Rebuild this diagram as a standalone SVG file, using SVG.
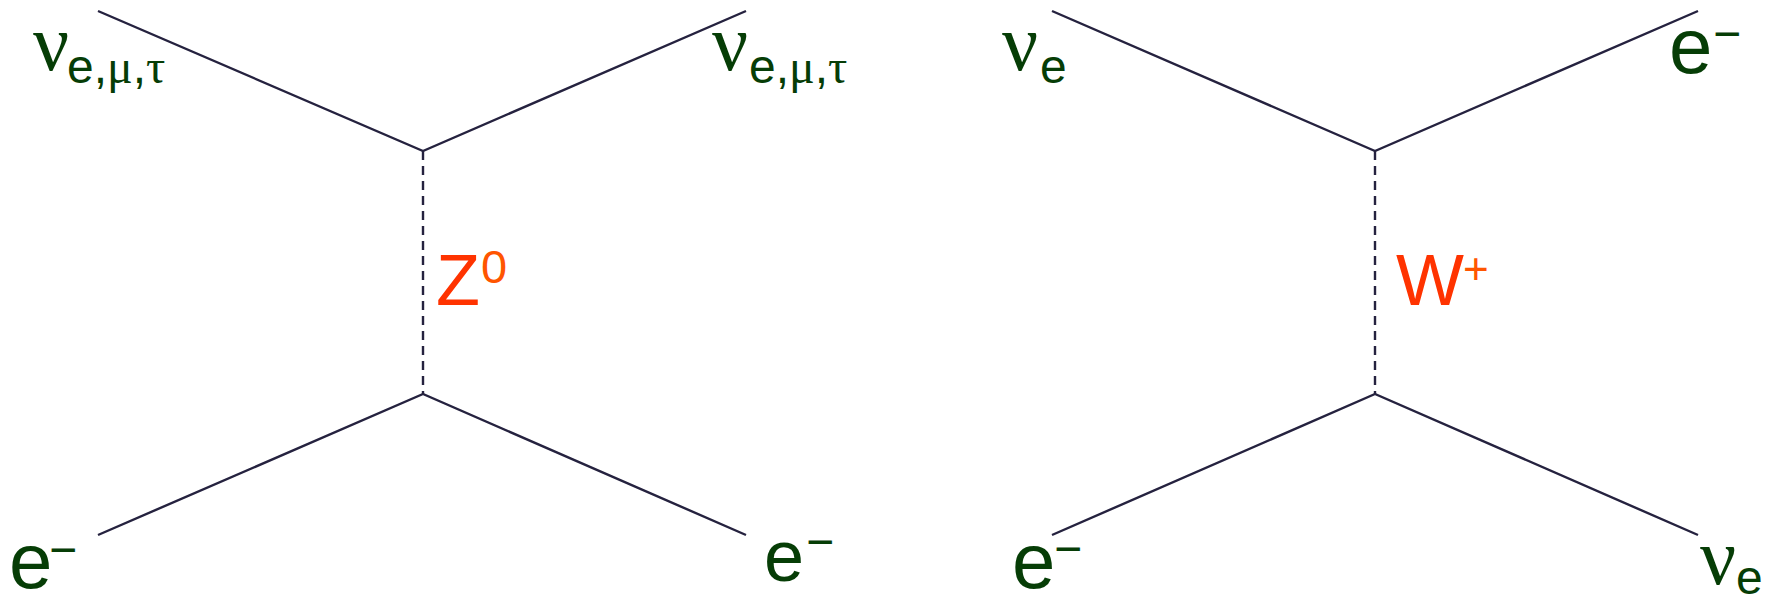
<svg xmlns="http://www.w3.org/2000/svg" width="1772" height="604" viewBox="0 0 1772 604">
<style>
.ln{stroke:#25223f;stroke-width:2.4;fill:none}
.ds{stroke:#25223f;stroke-width:2.4;fill:none;stroke-dasharray:9 6}
.g{fill:#063d06}
.sans{font-family:"Liberation Sans",Arial,sans-serif}
.serif{font-family:"Liberation Serif","Times New Roman",serif}
.red{fill:#ff3300}
.org{fill:#ff5500}
</style>
<rect width="1772" height="604" fill="#ffffff"/>
<g id="connectors">
<polyline class="ln" points="98,11 423,151 746,11"/>
<polyline class="ln" points="98,535 423,394 746,535"/>
<line class="ds" x1="423" y1="151" x2="423" y2="394"/>
<polyline class="ln" points="1052,11 1375,151 1698,11"/>
<polyline class="ln" points="1052,535 1375,394 1698,535"/>
<line class="ds" x1="1375" y1="151" x2="1375" y2="394"/>
</g>
<g id="nu-left-in">
<text class="g serif" x="33" y="70" font-size="80">ν</text>
<text class="g" x="67" y="83" font-size="48"><tspan class="sans">e,</tspan><tspan class="serif">μ</tspan><tspan class="sans">,</tspan><tspan class="serif">τ</tspan></text>
</g>
<g id="nu-left-out">
<text class="g serif" x="712" y="70" font-size="80">ν</text>
<text class="g" x="749" y="83" font-size="48"><tspan class="sans">e,</tspan><tspan class="serif">μ</tspan><tspan class="sans">,</tspan><tspan class="serif">τ</tspan></text>
</g>
<g id="e-left-in">
<text class="g sans" x="9" y="588" font-size="78">e</text>
<text class="g sans" x="49" y="566" font-size="48">−</text>
</g>
<g id="e-left-out">
<text class="g sans" x="764" y="581" font-size="72">e</text>
<text class="g sans" x="806" y="558" font-size="48">−</text>
</g>
<g id="z0">
<text class="red sans" x="436" y="305" font-size="72">Z</text>
<text class="org sans" x="481" y="283" font-size="47">0</text>
</g>
<g id="nu-right-in">
<text class="g serif" x="1002" y="70" font-size="80">ν</text>
<text class="g sans" x="1040" y="83" font-size="48">e</text>
</g>
<g id="e-right-out">
<text class="g sans" x="1669" y="73" font-size="78">e</text>
<text class="g sans" x="1713" y="50" font-size="48">−</text>
</g>
<g id="e-right-in">
<text class="g sans" x="1012" y="588" font-size="78">e</text>
<text class="g sans" x="1054" y="565" font-size="48">−</text>
</g>
<g id="nu-right-out">
<text class="g serif" x="1700" y="584" font-size="80">ν</text>
<text class="g sans" x="1736" y="594" font-size="48">e</text>
</g>
<g id="w-plus">
<text class="red sans" x="1396" y="305" font-size="72">W</text>
<text class="org sans" x="1463" y="284" font-size="44">+</text>
</g>
</svg>
